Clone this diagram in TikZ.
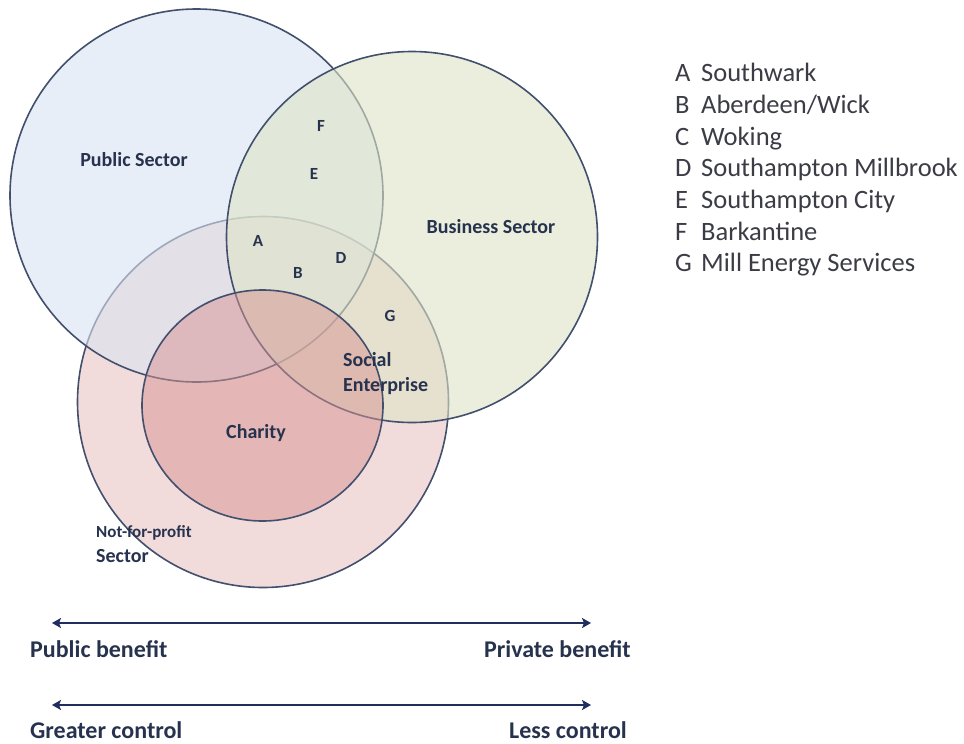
\documentclass[tikz,border=0pt]{standalone}
\usepackage{fontspec}
\setmainfont{Carlito}
\usetikzlibrary{arrows.meta}
\definecolor{pubfill}{RGB}{218,227,242}
\definecolor{busfill}{RGB}{222,228,198}
\definecolor{nfpfill}{RGB}{242,220,219}
\definecolor{chafill}{RGB}{216,148,147}
\definecolor{edgecol}{RGB}{66,80,110}
\definecolor{labtxt}{RGB}{38,50,78}
\definecolor{legtxt}{RGB}{60,60,70}
\definecolor{axiscol}{RGB}{31,45,95}
\begin{document}
\begin{tikzpicture}[x=1pt,y=-1pt,
  setline/.style={line width=1.6pt, draw=edgecol},
  lab/.style={font=\fontsize{20}{24}\selectfont\bfseries, text=labtxt, inner sep=0pt},
  letter/.style={font=\fontsize{17}{20}\selectfont\bfseries, text=labtxt, inner sep=0pt},
  legend/.style={font=\fontsize{26.5}{30}\selectfont, text=legtxt, inner sep=0pt, anchor=base west},
  axislab/.style={font=\fontsize{24}{28}\selectfont\bfseries, text=labtxt, inner sep=0pt},
  axisarrow/.style={draw=axiscol, line width=2.2pt, {Stealth[length=9pt,width=10pt,inset=2pt]}-{Stealth[length=9pt,width=10pt,inset=2pt]}}
]
\useasboundingbox (0,0) rectangle (964,744);
\fill[white] (0,0) rectangle (964,744);

% Not-for-profit sector
\fill[nfpfill] (263,402) circle[radius=185.5];
\draw[setline] (263,402) circle[radius=185.5];
% Public sector
\fill[pubfill, fill opacity=0.6] (196.5,195.5) circle[radius=186.5];
\draw[setline] (196.5,195.5) circle[radius=186.5];
% Business sector
\fill[busfill, fill opacity=0.6] (412,237) circle[radius=185.5];
\draw[setline] (412,237) circle[radius=185.5];
% Charity
\fill[chafill, fill opacity=0.5] (262.5,405.5) ellipse[x radius=120.5, y radius=115.5];
\draw[setline] (262.5,405.5) ellipse[x radius=120.5, y radius=115.5];

% circle labels
\node[lab] (pub) at (134,160) {Public Sector};
\node[lab] (bus) at (491,227) {Business Sector};
\node[lab] (cha) at (256,433) {Charity};
\node[lab, anchor=base west] (soc) at (343,366) {Social};
\node[lab, anchor=base west] (ent) at (343,391) {Enterprise};
\node[font=\fontsize{17}{20}\selectfont\bfseries, text=labtxt, inner sep=0pt, anchor=base west] (nfp) at (96,537) {Not-for-profit};
\node[lab, anchor=base west] (nfps) at (96,562) {Sector};

% case letters
\node[letter] (lF) at (321,126) {F};
\node[letter] (lE) at (314,174) {E};
\node[letter] (lA) at (258,241) {A};
\node[letter] (lB) at (298,273) {B};
\node[letter] (lD) at (341,258) {D};
\node[letter] (lG) at (390,316) {G};

% legend
\foreach \k/\nm/\yy in {A/Southwark/81.7, B/Aberdeen\slash Wick/113.3, C/Woking/145, D/Southampton Millbrook/176.7, E/Southampton City/208.3, F/Barkantine/240, G/Mill Energy Services/271.7}{
  \node[legend] (key\k) at (675,\yy) {\k};
  \node[legend] (name\k) at (701,\yy) {\nm};
}

% axes
\coordinate (a1l) at (52,623);
\coordinate (a1r) at (591,623);
\coordinate (a2l) at (52,705);
\coordinate (a2r) at (591,705);
\draw[axisarrow] (a1l) -- (a1r);
\draw[axisarrow] (a2l) -- (a2r);
\node[axislab, anchor=base west] (pubben) at (30,657) {Public benefit};
\node[axislab, anchor=base east] (priben) at (631,657) {Private benefit};
\node[axislab, anchor=base west] (grc) at (30,738.5) {Greater control};
\node[axislab, anchor=base east] (lc) at (627,738.5) {Less control};
\end{tikzpicture}
\end{document}
